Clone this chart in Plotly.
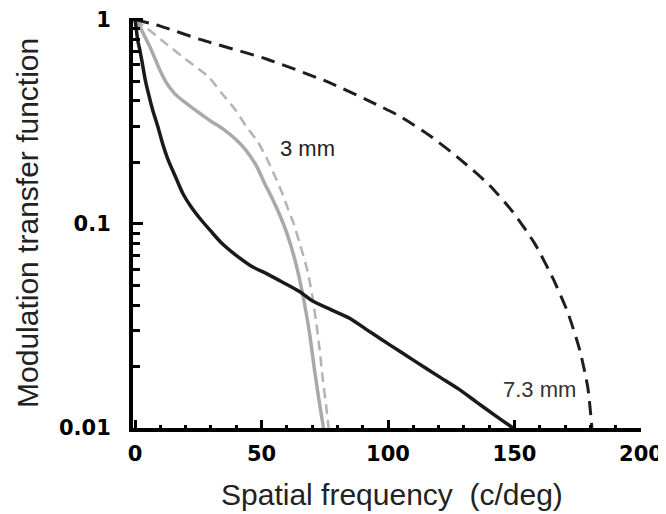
import plotly.graph_objects as go

# 7.3 mm pupil, diffraction limit (black dashed)
x_diff73 = [0, 10, 25.7, 52.2, 77.1, 95.3, 104.7, 116.6, 128.5, 140, 149.4, 158, 165.2, 171, 175.9, 179.0, 180.6]
y_diff73 = [1, 0.93, 0.80, 0.64, 0.49, 0.385, 0.336, 0.27, 0.207, 0.155, 0.114, 0.08, 0.054, 0.037, 0.0238, 0.0157, 0.01]

# 3 mm pupil, diffraction limit (gray dashed)
x_diff3 = [0, 5, 13, 20, 28.9, 34, 39.5, 44, 48.6, 52, 55.3, 58, 60.5, 62.5, 65, 68.0, 70, 71.9, 73, 74.3, 75.5, 76.5]
y_diff3 = [1, 0.9, 0.75, 0.64, 0.527, 0.44, 0.364, 0.30, 0.251, 0.21, 0.171, 0.143, 0.118, 0.102, 0.081, 0.060, 0.045, 0.031, 0.024, 0.017, 0.013, 0.01]

# 3 mm pupil, measured (gray solid)
x_eye3 = [0, 2, 4, 6, 8, 10, 12, 14, 16, 19, 22, 26, 30, 35, 40, 44, 48, 51, 54, 57, 60, 63, 66, 69, 71, 73, 74.5]
y_eye3 = [1, 0.92, 0.82, 0.73, 0.64, 0.56, 0.50, 0.46, 0.43, 0.40, 0.375, 0.345, 0.318, 0.29, 0.258, 0.228, 0.192, 0.16, 0.135, 0.112, 0.09, 0.068, 0.047, 0.029, 0.019, 0.013, 0.01]

# 7.3 mm pupil, measured (black solid)
x_eye73 = [0, 0.5, 1, 2, 3, 4, 5, 7, 9, 11, 13, 16, 19, 22, 26, 30, 34, 40, 46, 52, 58, 65, 70, 78, 85, 93, 101, 110, 120, 128, 135, 142, 149.4]
y_eye73 = [1, 0.9, 0.8, 0.70, 0.60, 0.51, 0.45, 0.36, 0.30, 0.245, 0.207, 0.17, 0.14, 0.122, 0.105, 0.092, 0.081, 0.07, 0.062, 0.057, 0.052, 0.0466, 0.042, 0.0377, 0.0344, 0.0295, 0.0254, 0.0215, 0.0179, 0.0155, 0.0134, 0.0116, 0.01]

x_ticks = [0, 50, 100, 150, 200]
y_ticks = [0.01, 0.1, 1]
y_tick_text = ["0.01", "0.1", "1"]

fig = go.Figure()
fig.add_trace(go.Scatter(x=x_diff3, y=y_diff3, mode="lines",
                         line=dict(color="#b3b3b3", width=2.5, dash="10px,6px", shape="spline", smoothing=0.6)))
fig.add_trace(go.Scatter(x=x_eye3, y=y_eye3, mode="lines",
                         line=dict(color="#a9a9a9", width=3.5, shape="spline", smoothing=0.6)))
fig.add_trace(go.Scatter(x=x_diff73, y=y_diff73, mode="lines",
                         line=dict(color="#1e1e1e", width=3, dash="14px,8px", shape="spline", smoothing=0.6)))
fig.add_trace(go.Scatter(x=x_eye73, y=y_eye73, mode="lines",
                         line=dict(color="#1a1a1a", width=3.5, shape="spline", smoothing=0.6)))

tickfont = dict(family="DejaVu Sans", size=21, color="black", weight="bold")

# page body has an 8px default margin, so the figure is sized/offset to compensate
fig.update_layout(
    width=658, height=506,
    margin=dict(l=125, r=25, t=10, b=86),
    paper_bgcolor="white", plot_bgcolor="white",
    showlegend=False,
    xaxis=dict(range=[-0.8, 200], tickvals=x_ticks, ticktext=[str(v) for v in x_ticks],
               automargin=False, ticklabeloverflow="allow",
               showgrid=False, zeroline=False, showline=True, linecolor="black", linewidth=3.5,
               ticks="inside", ticklen=8, tickwidth=3, tickcolor="black",
               ticklabelstandoff=4, tickfont=tickfont,
               minor=dict(ticks="inside", ticklen=3, tickwidth=3, tickcolor="black",
                          tickvals=[10, 20, 30, 40, 60, 70, 80, 90, 110, 120, 130, 140,
                                    160, 170, 180, 190], showgrid=False)),
    yaxis=dict(type="log", range=[-2, 0.008], tickvals=y_ticks, ticktext=y_tick_text,
               automargin=False, ticklabeloverflow="allow",
               showgrid=False, zeroline=False, showline=True, linecolor="black", linewidth=4,
               ticks="inside", ticklen=10, tickwidth=3, tickcolor="black",
               ticklabelstandoff=14, tickfont=tickfont,
               minor=dict(ticks="inside", ticklen=7, tickwidth=2.5, tickcolor="black",
                          tickvals=[0.02, 0.03, 0.04, 0.05, 0.06, 0.07, 0.08, 0.09,
                                    0.2, 0.3, 0.4, 0.5, 0.6, 0.7, 0.8, 0.9], showgrid=False)),
    annotations=[
        dict(text="Modulation transfer function", xref="paper", yref="paper",
             x=-0.2087, y=0.5, xanchor="center", yanchor="middle", textangle=-90,
             showarrow=False, font=dict(family="Liberation Sans", size=30, color="#222")),
        dict(text="Spatial frequency\u00a0\u00a0(c/deg)", xref="paper", yref="paper",
             x=0.51, y=-0.1634, xanchor="center", yanchor="middle",
             showarrow=False, font=dict(family="Liberation Sans", size=30, color="#222")),
        dict(text="3 mm", xref="x", yref="y", x=68, y=-0.629, xanchor="center",
             yanchor="middle", showarrow=False,
             font=dict(family="Liberation Sans", size=22, color="#222")),
        dict(text="7.3 mm", xref="x", yref="y", x=160, y=-1.809, xanchor="center",
             yanchor="middle", showarrow=False,
             font=dict(family="Liberation Sans", size=22, color="#333")),
    ],
)

fig.write_html("out.html")
